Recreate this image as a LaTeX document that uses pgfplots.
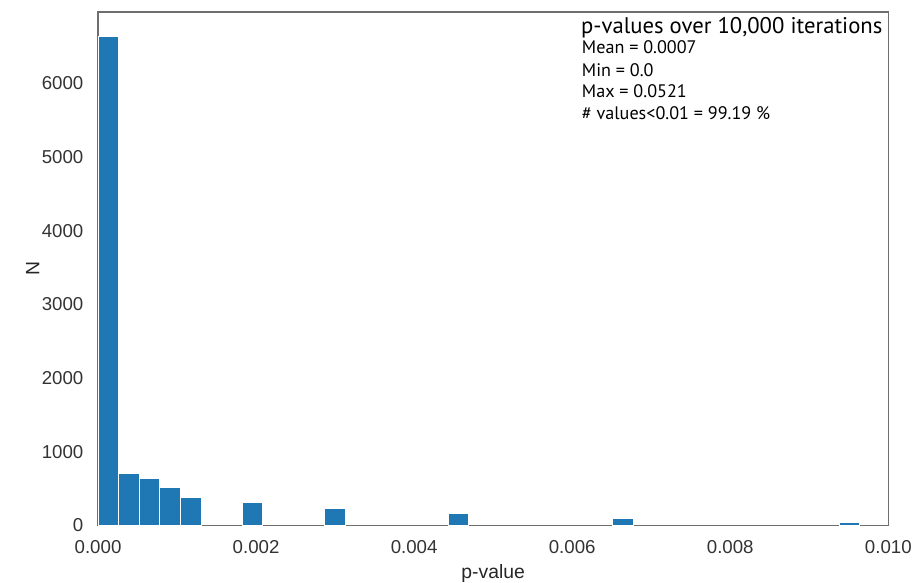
\documentclass[border=0pt]{standalone}
\usepackage{pgfplots}
\pgfplotsset{compat=1.18}
\usepackage{fontspec}
\setmainfont{Liberation Sans}
\newfontfamily\annfont{PT Sans}
\definecolor{barblue}{RGB}{31,119,180}
\definecolor{framegray}{RGB}{110,110,110}
\begin{document}
\begin{tikzpicture}
\path[use as bounding box] (-73.5pt,-43pt) rectangle (615.5pt,394pt);
\begin{axis}[
  at={(0,0)}, anchor=south west,
  scale only axis, width=592.5pt, height=385pt,
  xmin=0, xmax=0.010, ymin=0, ymax=6965,
  axis line style={framegray, line width=0.8pt},
  tick style={draw=none},
  xtick={0,0.002,0.004,0.006,0.008,0.010},
  ytick={0,1000,2000,3000,4000,5000,6000},
  scaled x ticks=false,
  xticklabel style={/pgf/number format/fixed, /pgf/number format/fixed zerofill, /pgf/number format/precision=3, yshift=-8pt},
  yticklabel style={/pgf/number format/1000 sep={}, xshift=-7.5pt},
  /pgf/number format/assume math mode=true,
  ticklabel style={font=\fontsize{14}{16}\selectfont, text=black!80},
  xlabel={p-value}, ylabel={N},
  label style={font=\fontsize{14.5}{16}\selectfont, text=black!85},
  xlabel style={yshift=-1pt},
  ylabel style={yshift=-5pt},
  clip=false,
]
\addplot[ybar, bar width=0.0002605, fill=barblue, draw=white, line width=0.6pt] coordinates {
  (0.00013025,6633)
  (0.00039075,706)
  (0.00065125,633)
  (0.00091175,511)
  (0.00117225,381)
  (0.00195375,317)
  (0.00299575,231)
  (0.00455875,160)
  (0.00664275,95)
  (0.00950825,37)
};
\node[anchor=base west, font=\annfont\fontsize{17}{20}\selectfont, inner sep=0pt] at (rel axis cs:0.611,0.959) {p-values over 10,000 iterations};
\node[anchor=base west, font=\annfont\fontsize{13.6}{16}\selectfont, inner sep=0pt] at (rel axis cs:0.612,0.920) {Mean = 0.0007};
\node[anchor=base west, font=\annfont\fontsize{13.6}{16}\selectfont, inner sep=0pt] at (rel axis cs:0.612,0.875) {Min = 0.0};
\node[anchor=base west, font=\annfont\fontsize{13.6}{16}\selectfont, inner sep=0pt] at (rel axis cs:0.612,0.834) {Max = 0.0521};
\node[anchor=base west, font=\annfont\fontsize{13.6}{16}\selectfont, inner sep=0pt] at (rel axis cs:0.612,0.790) {\# values<0.01 = 99.19 \%};
\end{axis}
\end{tikzpicture}
\end{document}
